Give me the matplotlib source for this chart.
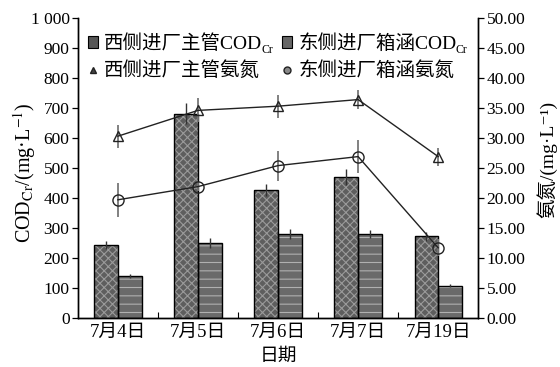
import numpy as np
import matplotlib
matplotlib.use("Agg")
import matplotlib.pyplot as plt
from matplotlib.ticker import FixedLocator, FuncFormatter
from matplotlib.lines import Line2D
from matplotlib.patches import Patch

plt.rcParams['font.family'] = ['Liberation Serif', 'Noto Sans CJK SC', 'DejaVu Sans']
plt.rcParams['mathtext.fontset'] = 'stix'
plt.rcParams['hatch.linewidth'] = 0.8

dates = ['7月4日', '7月5日', '7月6日', '7月7日', '7月19日']

# COD_Cr (mg/L)
west_cod = [243, 680, 427, 470, 273]
west_cod_err = [12, 35, 20, 27, 15]
east_cod = [140, 250, 280, 280, 107]
east_cod_err = [8, 15, 18, 12, 5]

# ammonia nitrogen (mg/L)
west_nh = [30.3, 34.6, 35.3, 36.4, 26.9]
west_nh_err = [1.9, 2.0, 1.9, 1.6, 1.5]
east_nh = [19.7, 21.9, 25.4, 26.9, 11.7]
east_nh_err = [2.8, 0.8, 2.5, 2.7, 1.4]

# "Cr" subscript is added separately after the legend is laid out
labels = ['西侧进厂主管COD', '东侧进厂箱涵COD', '西侧进厂主管氨氮', '东侧进厂箱涵氨氮']

fig = plt.figure(figsize=(5.6, 3.67), dpi=100)
ax = fig.add_axes([0.139, 0.1335, 0.715, 0.8175])
ax2 = ax.twinx()

x = np.arange(len(dates))
w = 0.295

# bars: hatched fill, then black outline
ax.bar(x - w / 2, west_cod, w, color='#5e5e5e', hatch='xxxx', edgecolor='#9a9a9a', linewidth=0, zorder=2)
ax.bar(x - w / 2, west_cod, w, fill=False, edgecolor='black', linewidth=1.0, zorder=3)
ax.bar(x + w / 2, east_cod, w, color='#6a6a6a', hatch='--', edgecolor='#b0b0b0', linewidth=0, zorder=2)
ax.bar(x + w / 2, east_cod, w, fill=False, edgecolor='black', linewidth=1.0, zorder=3)
ax.errorbar(x - w / 2, west_cod, yerr=west_cod_err, fmt='none', ecolor='#333333', elinewidth=1.0, capsize=0, zorder=4)
ax.errorbar(x + w / 2, east_cod, yerr=east_cod_err, fmt='none', ecolor='#333333', elinewidth=1.0, capsize=0, zorder=4)

ax2.errorbar(x, west_nh, yerr=west_nh_err, fmt='none', ecolor='#777777', elinewidth=1.3, capsize=0, zorder=4)
ax2.errorbar(x, east_nh, yerr=east_nh_err, fmt='none', ecolor='#777777', elinewidth=1.3, capsize=0, zorder=4)
ax2.plot(x, west_nh, color='#222222', lw=1.0, marker='^', ms=7, mfc='none', mec='#222222', mew=1.0, zorder=5)
ax2.plot(x, east_nh, color='#222222', lw=1.0, marker='o', ms=8, mfc='none', mec='#222222', mew=1.0, zorder=5)

ax.set_xlim(-0.5, 4.5)
ax.set_ylim(0, 1000)
ax2.set_ylim(0, 50)

ax.set_yticks(np.arange(0, 1001, 100))
ax.yaxis.set_major_formatter(FuncFormatter(lambda v, p: '1 000' if v == 1000 else f'{int(v)}'))
ax2.set_yticks(np.arange(0, 50.1, 5))
ax2.yaxis.set_major_formatter(FuncFormatter(lambda v, p: f'{v:.2f}'))

ax.set_xticks(x)
ax.set_xticklabels(dates)
ax.tick_params(axis='x', length=0, labelsize=13.5, pad=4)
ax.xaxis.set_minor_locator(FixedLocator(np.arange(0.5, 4.5, 1)))
ax.tick_params(axis='x', which='minor', direction='in', length=4, width=0.8)
ax.tick_params(axis='y', direction='out', length=4, width=0.9, labelsize=12.5, pad=2)
ax2.tick_params(axis='y', direction='out', length=4, width=0.9, labelsize=12.5, pad=2)

for a in (ax, ax2):
    a.spines['top'].set_visible(False)
    for s in ('left', 'right', 'bottom'):
        a.spines[s].set_linewidth(1.0)

ax.set_xlabel('日期', fontsize=13.5, labelpad=5)
ax.set_ylabel('COD$_{\\mathrm{Cr}}$/(mg·L$^{-1}$)', fontsize=14.5)
ax.yaxis.set_label_coords(-0.1, 0.483)
ax2.set_ylabel('氨氮/(mg·L⁻¹)', fontsize=14, rotation=90)
ax2.yaxis.set_label_coords(1.145, 0.53)

handles = [
    Patch(facecolor='#555555', edgecolor='black', linewidth=0.8),
    Line2D([], [], marker='^', ls='none', color='#222222', mfc='#444444', ms=5),
    Patch(facecolor='#666666', edgecolor='black', linewidth=0.8),
    Line2D([], [], marker='o', ls='none', color='#222222', mfc='#888888', ms=5),
]
leg = ax.legend(handles, [labels[0], labels[2], labels[1], labels[3]], ncol=2, loc='upper left',
                bbox_to_anchor=(-0.005, 0.985), frameon=False, fontsize=14,
                handlelength=0.55, handleheight=0.55, handletextpad=0.3, columnspacing=1.0,
                labelspacing=0.45, borderaxespad=0.2)

# subscript "Cr" after each COD legend entry
fig.canvas.draw()
W, H = fig.bbox.width, fig.bbox.height
for t in leg.get_texts():
    if t.get_text().endswith('COD'):
        bb = t.get_window_extent()
        fig.text((bb.x1 - 1) / W, (bb.y0 + 3) / H, 'Cr', fontsize=8.5, ha='left', va='center')

fig.savefig('out.png', dpi=100)
